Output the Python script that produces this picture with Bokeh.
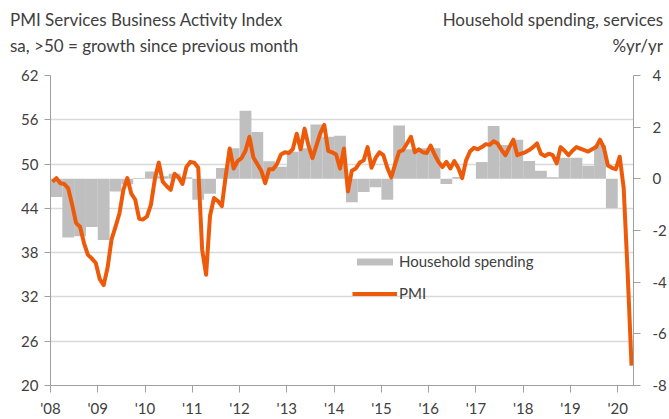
from bokeh.plotting import figure
from bokeh.layouts import column
from bokeh.models import Range1d, LinearAxis, FixedTicker, Legend, LegendItem, Div
from bokeh.embed import file_html
from bokeh.resources import INLINE

# ---------------- data ----------------
year_ticks = list(range(2008, 2021))
year_labels = ["'08", "'09", "'10", "'11", "'12", "'13", "'14", "'15", "'16", "'17", "'18", "'19", "'20"]
left_ticks = [20, 26, 32, 38, 44, 50, 56, 62]
right_ticks = [-8, -6, -4, -2, 0, 2, 4]

# PMI services business activity, monthly Jan 2008 - Apr 2020
pmi_2008 = [47.6, 48.1, 47.4, 47.3, 46.7, 44.5, 42.0, 41.5, 39.3, 37.7, 37.2, 36.6]
pmi_2009 = [34.4, 33.6, 36.0, 39.8, 41.5, 43.3, 46.5, 48.1, 46.0, 45.2, 42.6, 42.5]
pmi_2010 = [42.9, 44.5, 48.0, 50.2, 47.6, 47.0, 46.5, 48.7, 48.2, 47.3, 49.6, 50.3]
pmi_2011 = [50.2, 49.5, 38.4, 35.0, 43.0, 45.4, 45.0, 44.3, 48.5, 52.1, 49.4, 50.4]
pmi_2012 = [50.8, 51.8, 53.7, 50.9, 50.0, 49.1, 47.4, 49.3, 49.3, 50.0, 51.3, 51.6]
pmi_2013 = [51.5, 52.0, 54.1, 52.0, 54.8, 52.5, 50.8, 52.5, 54.2, 55.3, 51.8, 51.6]
pmi_2014 = [51.3, 49.4, 52.1, 46.3, 49.1, 49.4, 50.2, 50.5, 52.3, 49.5, 50.8, 51.6]
pmi_2015 = [51.2, 49.5, 48.2, 50.0, 51.7, 51.9, 52.8, 53.7, 51.6, 52.0, 51.6, 51.5]
pmi_2016 = [52.5, 51.3, 50.3, 49.6, 50.3, 49.4, 50.4, 49.5, 48.1, 50.5, 51.7, 52.2]
pmi_2017 = [52.0, 52.3, 52.7, 52.6, 53.1, 52.8, 51.9, 51.2, 52.3, 53.3, 51.2, 51.4]
pmi_2018 = [51.6, 51.9, 52.3, 52.8, 51.4, 51.1, 51.4, 51.2, 50.1, 52.3, 51.8, 51.2]
pmi_2019 = [51.8, 52.3, 52.1, 51.9, 51.7, 52.0, 52.3, 53.3, 52.2, 49.8, 49.5, 49.3]
pmi_2020 = [51.0, 46.8, 35.5, 22.7]

# Household spending on services, %yr/yr, quarterly Q1 2008 - Q4 2019
hs_2008 = [-0.70, -2.27, -2.22, -1.86]
hs_2009 = [-2.37, -0.49, -0.21, 0.03]
hs_2010 = [0.28, 0.10, 0.20, 0.06]
hs_2011 = [-0.81, -0.58, 0.42, 1.18]
hs_2012 = [2.64, 1.81, 0.68, 0.47]
hs_2013 = [1.05, 1.18, 2.10, 1.63]
hs_2014 = [1.67, -0.91, -0.51, -0.33]
hs_2015 = [-0.81, 2.06, 1.15, 1.18]
hs_2016 = [1.18, -0.20, 0.07, 0.0]
hs_2017 = [0.65, 2.05, 1.31, 1.51]
hs_2018 = [0.69, 0.31, 0.06, 0.82]
hs_2019 = [0.82, 0.51, 1.30, -1.13]

title_left = ["PMI Services Business Activity Index", "sa, >50 = growth since previous month"]
title_right = ["Household spending, services", "%yr/yr"]

pmi = (pmi_2008 + pmi_2009 + pmi_2010 + pmi_2011 + pmi_2012 + pmi_2013 + pmi_2014
       + pmi_2015 + pmi_2016 + pmi_2017 + pmi_2018 + pmi_2019 + pmi_2020)
hs = (hs_2008 + hs_2009 + hs_2010 + hs_2011 + hs_2012 + hs_2013 + hs_2014
      + hs_2015 + hs_2016 + hs_2017 + hs_2018 + hs_2019)

pmi_x = [2008 + (i + 0.5) / 12 for i in range(len(pmi))]
q_left = [2008 + i / 4 for i in range(len(hs))]
q_right = [x + 0.25 for x in q_left]
q_zero = [0] * len(hs)

# ---------------- styling ----------------
FONT = "Lato"
TXT = "#404040"
AX = "#a0a0a0"
ORANGE = "#ec5a0a"
GREY = "#bfbfbf"
W, H_HEAD, H_MAIN = 669, 60, 359

# header with the two-line axis titles
span = ("position:absolute;white-space:nowrap;line-height:17px;font-family:Lato;"
        "font-size:17px;color:%s;" % TXT)
head_html = (
    '<div style="position:relative;width:%dpx;height:%dpx;">' % (W, H_HEAD)
    + '<div style="%sleft:10px;top:11px;">%s</div>' % (span, title_left[0])
    + '<div style="%sleft:10px;top:37px;">%s</div>' % (span, title_left[1])
    + '<div style="%sright:6px;top:11px;text-align:right;">%s</div>' % (span, title_right[0])
    + '<div style="%sright:6px;top:37px;text-align:right;">%s</div>' % (span, title_right[1])
    + '</div>'
)
head = Div(text=head_html, width=W, height=H_HEAD, margin=(0, 0, 0, 0))

p = figure(width=W, height=H_MAIN, output_backend="svg", toolbar_location=None,
           x_range=Range1d(2008, 2020 + 1 / 3), y_range=Range1d(20, 62),
           min_border_left=50, min_border_right=36, min_border_top=15, min_border_bottom=32)
p.extra_y_ranges = {"right": Range1d(-8, 4)}
p.outline_line_color = None
p.background_fill_color = "white"

# axes
p.xaxis.ticker = FixedTicker(ticks=year_ticks)
p.xaxis.major_label_overrides = {y: l for y, l in zip(year_ticks, year_labels)}
p.yaxis.ticker = FixedTicker(ticks=left_ticks)
for ax in [p.xaxis[0], p.yaxis[0]]:
    ax.axis_line_color = AX
    ax.major_tick_line_color = AX
    ax.minor_tick_line_color = None
    ax.major_tick_in = 0
    ax.major_label_text_font = FONT
    ax.major_label_text_font_size = "15px"
    ax.major_label_text_color = TXT
p.xaxis.major_tick_out = 7
p.xaxis.major_label_standoff = 6
p.yaxis.major_tick_out = 6
p.yaxis.major_label_standoff = 6

ry = LinearAxis(y_range_name="right", ticker=FixedTicker(ticks=right_ticks),
                major_label_overrides={t: str(t) for t in right_ticks})
ry.axis_line_color = AX
ry.major_tick_line_color = AX
ry.minor_tick_line_color = None
ry.major_tick_in = 0
ry.major_tick_out = 7
ry.major_label_standoff = 12
ry.major_label_text_font = FONT
ry.major_label_text_font_size = "15px"
ry.major_label_text_color = TXT
p.add_layout(ry, "right")

p.xgrid.grid_line_color = None
p.ygrid.grid_line_color = "#d9d9d9"
p.ygrid.grid_line_width = 1.3

# data
bars = p.quad(left=q_left, right=q_right, bottom=q_zero, top=hs, y_range_name="right",
              fill_color=GREY, line_color=None)
line = p.line(pmi_x, pmi, line_color=ORANGE, line_width=4, line_join="round")

legend = Legend(items=[LegendItem(label="Household spending", renderers=[bars]),
                       LegendItem(label="PMI", renderers=[line])],
                location=(302, 83), orientation="vertical", padding=0, margin=0,
                spacing=14, glyph_width=45, glyph_height=9, label_height=9,
                label_standoff=2, border_line_color=None, background_fill_alpha=0,
                label_text_font=FONT, label_text_font_size="15px", label_text_color=TXT)
p.add_layout(legend, "center")

layout = column(head, p, spacing=0)
open("out.html", "w").write(file_html(layout, INLINE))
